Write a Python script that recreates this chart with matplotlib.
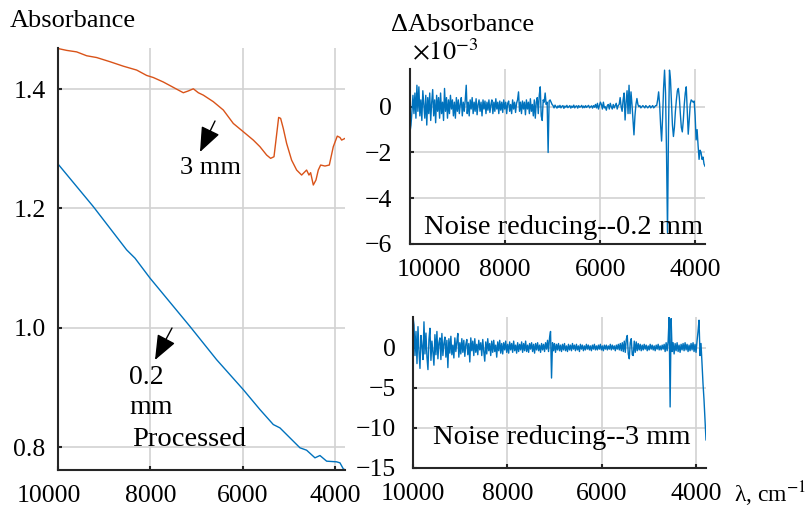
import numpy as np
import matplotlib
matplotlib.use('Agg')
import matplotlib.pyplot as plt
from matplotlib.patches import FancyArrowPatch
from matplotlib.transforms import ScaledTranslation

# ---------------- data ----------------
thick_x = [9993, 9812, 9596, 9379, 9162, 8873, 8584, 8295, 8079, 7934, 7718, 7501, 7284,
           7176, 7067, 6959, 6851, 6634, 6417, 6201, 5984, 5767, 5623, 5478, 5392, 5319,
           5276, 5218, 5175, 5117, 5045, 4937, 4828, 4720, 4648, 4612, 4561, 4525, 4467,
           4409, 4359, 4308, 4214, 4120, 4034, 3947, 3889, 3853, 3781]
thick_y = [1.468, 1.465, 1.4625, 1.456, 1.453, 1.446, 1.4385, 1.432, 1.423, 1.4195, 1.412,
           1.403, 1.394, 1.397, 1.4006, 1.394, 1.390, 1.379, 1.365, 1.3425, 1.3286, 1.3146,
           1.3035, 1.2895, 1.284, 1.2867, 1.3146, 1.3526, 1.351, 1.334, 1.309, 1.281, 1.2644,
           1.256, 1.2616, 1.2644, 1.256, 1.26, 1.2393, 1.2477, 1.2644, 1.2728, 1.2711, 1.2728,
           1.3035, 1.3213, 1.319, 1.3146, 1.3174]

thin_x = [10000, 9234, 8512, 8331, 8006, 7140, 6562, 5984, 5623, 5334, 5190, 4973, 4756,
          4612, 4431, 4323, 4178, 3962, 3889, 3817, 3781]
thin_y = [1.2745, 1.203, 1.1305, 1.1166, 1.0832, 1.0022, 0.9464, 0.8962, 0.8628, 0.8377,
          0.8321, 0.8154, 0.7987, 0.7947, 0.7819, 0.7858, 0.7763, 0.7752, 0.7735, 0.7634, 0.762]

# wavenumber range of the difference spectra (cm^-1), evenly sampled
d02_start, d02_stop = 10000, 3800
d3_start, d3_stop = 10000, 3790

# difference spectrum, 0.2 mm (x 1e-3)
diff_02 = [
    -1.1, -0.8, -0.2, 0.5, -0.3, 0.6, -0.5, 0.94, -0.2, 0.87,
    -0.4, 0.3, -0.6, 0.7, 0.1, -0.5, 0.5, -0.8, 0.4, -0.3,
    0.6, -0.6, 0.2, 0.75, -0.4, 0.3, -0.7, 0.5, -0.2, 0.4,
    -0.5, 0.6, -0.3, 0.2, -0.6, 0.8, -0.2, 0.4, -0.5, 0.3,
    -0.3, 0.5, -0.1, 0.3, -0.4, 0.2, -0.5, 0.4, -0.2, 0.3,
    -0.3, 0.1, 0.4, -0.4, 0.2, -0.2, 0.3, 0.94, -0.3, 0.2,
    -0.4, 0.3, -0.1, 0.4, -0.3, 0.2, -0.2, 0.35, -0.35, 0.1,
    0.3, -0.2, 0.2, -0.4, 0.3, -0.1, 0.25, -0.3, 0.2, -0.15,
    0.3, -0.25, 0.1, 0.3, -0.3, 0.2, -0.2, 0.35, -0.1, 0.2,
    -0.3, 0.25, -0.15, 0.2, -0.25, 0.3, -0.1, 0.2, -0.3, 0.15,
    0.25, -0.2, 0.1, -0.3, 0.3, -0.1, 0.2, -0.25, 0.15, 0.3,
    0.65, -0.2, 0.2, -0.3, 0.25, -0.1, 0.2, -0.35, 0.3, -0.1,
    0.2, -0.3, 0.35, -0.2, 0.1, -0.4, 0.3, -0.5, 0.2, 0.4,
    -0.3, 0.5, 0.87, -0.4, -0.6, 0.3, 0.2, 0.6, 0.1, 0.2,
    -2.0, 0.25, 0.3, 0.2, 0.1,
    0.05, -0.05, 0.07, 0.0, -0.06, 0.04, -0.03, 0.06, -0.05, 0.02,
    0.05, -0.07, 0.03, -0.02, 0.06, -0.04, 0.0, 0.05, -0.06, 0.03,
    -0.03, 0.07, -0.05, 0.02, 0.04, -0.06, 0.05, -0.02, 0.0, 0.06,
    -0.05, 0.03, -0.04, 0.05, -0.03, 0.02, 0.06, -0.05, 0.0, 0.04,
    -0.06, 0.05, -0.02,
    0.1, -0.05, 0.15, -0.1, 0.05, 0.2, 0.1, -0.1, 0.2, -0.05,
    0.0, -0.15, 0.05, 0.1, -0.1, 0.15, 0.0, -0.1, 0.1, -0.05,
    0.05, 0.15, -0.1, 0.05,
    0.1, 0.4, 0.0, -0.2, 0.3, 0.6, -0.58, 0.2, 0.7, -0.3,
    0.94, -0.3, 0.65, 0.1, -0.6, -1.23, -0.4, 0.1, 0.36, 0.1, 0.0,
    0.05, -0.05, 0.0, 0.05, 0.0, -0.05, 0.05, 0.0, -0.05, 0.0,
    0.05, -0.05, 0.0, 0.05, -0.05, 0.0, 0.05,
    0.05, 0.3, 0.65, 0.1, -0.8, -1.5, -0.5, 0.8, 1.6, 0.6,
    -2.0, -5.5, -1.0, 1.6, 1.2, 0.2, -0.8, -1.3, -0.9, -0.2,
    0.3, 0.7, 0.8, 0.4, -0.3, -0.9, -1.1, -0.6, 0.1, 0.6,
    0.87, -0.2, -1.2, -0.6, 0.1, 0.3, 0.25, 0.2, 0.25, -0.4,
    -1.45, -1.0, -1.7, -2.3, -1.9, -2.0, -2.3, -2.2, -2.5, -2.6]

# difference spectrum, 3 mm (x 1e-3)
diff_3 = [
    3.8, 2.8, -1.0, 2.0, -2.0, 2.6, -0.5, -2.6, 1.5, 0.2,
    -1.5, 3.2, -0.8, 1.8, -1.2, -2.75, 1.0, 2.4, -1.6, 0.8,
    -0.6, -2.2, 1.6, -0.9, 2.0, -1.4, 0.6, 1.2, -1.5, 1.75,
    -1.0, 0.5, 1.3, -1.2, 0.9, -2.5, 1.1, -0.7, 1.4, -0.9,
    0.3, -1.3, 1.2, -0.5, 0.7, 1.75, -1.2, 0.6, -0.8, 1.1,
    -0.6, 0.9, -1.1, 0.4, 1.0, -0.9, 0.5, -1.8, 1.2, -0.4,
    0.8, -1.0, 1.1, -0.6, 0.4, -0.9, 0.9, -0.3, 0.6, -1.0,
    1.0, -0.5, -1.7, 0.7, -0.8, 1.1, -0.4, 0.5, -1.0, 0.8,
    -0.6, 0.9, -0.5, 0.3, -1.2, 0.7, -0.4, 0.9, -0.7, 0.5,
    -0.8, 0.6, -0.3, 0.8, -0.6, 0.4, -0.7, 0.7, -0.3, 0.5,
    -0.6, 0.8, -0.4, 0.3, -0.7, 0.6, -0.5, 0.4, -0.3, 0.7,
    -0.6, 0.5, -0.4, 0.8, -0.5, 0.3, -0.6, 0.5, -0.2, 0.6,
    -0.5, 0.4, -0.7, 0.5, -0.3, 0.6, -0.4, 0.3, -0.6, 0.5,
    -0.3, 0.4, -0.5, 0.6, -0.2, 0.9, -0.5, 1.2, 2.0, -3.8,
    0.6, -0.4, 0.5, -0.6, 0.4, -0.3, 0.5, -0.4, 0.3, -0.5,
    0.4, -0.3, 0.5, -0.4, 0.2, -0.5, 0.4, -0.3, 0.3, -0.4,
    0.5, -0.2, 0.3, -0.4, 0.4, -0.3, 0.2, -0.5, 0.4, -0.2,
    0.3, -0.4, 0.2, -0.3, 0.4, -0.2, 0.3, -0.3, 0.2, -0.4,
    0.3, -0.2, 0.4, -0.3, 0.2, -0.3, 0.3, -0.2, 0.4, -0.3,
    0.2, -0.4, 0.3, -0.2, 0.3, -0.3, 0.2, -0.2, 0.4, -0.3,
    0.3, -0.2, 0.2, -0.4, 0.3, -0.2, 0.4, -0.3, 0.5, -0.4,
    0.6, -0.5, 0.8, -0.6, 1.0, 1.5, -0.8, -1.4, 0.6, 1.1,
    -0.9, -1.0, 0.8, -0.6, 0.7, -0.4, 0.5, -0.3, 0.4, -0.4,
    0.3, -0.3, 0.4, -0.2, 0.3, -0.4, 0.2, -0.3, 0.4, -0.2,
    0.3, -0.3, 0.2, -0.4, 0.3, -0.2, 0.4, -0.3, 0.2, -0.3,
    0.3, -0.2, 0.4, -0.5, 0.6, -0.4, 0.8, 3.8, -7.4, 3.6,
    -0.5, 0.6, -0.8, 0.5, -0.4, 0.6, -0.5, 0.3, -0.6, 0.4,
    -0.3, 0.5, -0.4, 0.6, -0.3, 0.4, -0.5, 0.3, -0.4, 0.5,
    -0.3, 0.6, -0.5, 0.4, -0.6, 0.8, 2.0, 3.4, -1.0, 0.5,
    -2.0, -4.5, -6.5, -9.0, -11.5]

x_ticks = [10000, 8000, 6000, 4000]
x_ticklabels = ['10000', '8000', '6000', '4000']
left_yticks = [0.8, 1.0, 1.2, 1.4]
left_yticklabels = ['0.8', '1.0', '1.2', '1.4']
tr_yticks = [-6, -4, -2, 0]
br_yticks = [-15, -10, -5, 0]

# ---------------- style ----------------
plt.rcParams['font.family'] = ['Liberation Serif', 'DejaVu Serif']
plt.rcParams['mathtext.fontset'] = 'stix'

W, H = 811, 508
fig = plt.figure(figsize=(W / 100, H / 100), dpi=100)

ORANGE = '#D95319'
BLUE = '#0072BD'
AXC = '#262626'


def ax_px(l, t, r, b):
    return fig.add_axes([l / W, 1 - b / H, (r - l) / W, (b - t) / H])


def style(ax, ypad):
    for s in ['top', 'right']:
        ax.spines[s].set_visible(False)
    for s in ['left', 'bottom']:
        ax.spines[s].set_linewidth(1.5)
        ax.spines[s].set_color(AXC)
    ax.grid(True, color='#d2d2d2', lw=1.2)
    ax.set_axisbelow(True)
    ax.tick_params(direction='in', length=3, width=1.5, colors=AXC,
                   labelcolor='black', labelsize=18.5)
    ax.tick_params(axis='x', pad=11)
    ax.tick_params(axis='y', pad=ypad)


def shift_label(ax, idx, dx_px):
    lab = ax.xaxis.get_major_ticks()[idx].label1
    lab.set_transform(lab.get_transform() +
                      ScaledTranslation(dx_px / 100, 0, fig.dpi_scale_trans))


def ftext(x, y, s, **kw):
    fig.text(x / W, 1 - y / H, s, **kw)


# left panel
axL = ax_px(58, 48, 345, 470)
axL.plot(thick_x, thick_y, color=ORANGE, lw=1.0)
axL.plot(thin_x, thin_y, color=BLUE, lw=1.0)
axL.set_xlim(10000, 3780)
axL.set_ylim(0.7615, 1.469)
axL.set_xticks(x_ticks, x_ticklabels)
axL.set_yticks(left_yticks, left_yticklabels)
style(axL, 9)
shift_label(axL, 0, -9)

# top right panel
wn02 = np.linspace(d02_start, d02_stop, len(diff_02))
axT = ax_px(410, 69, 705, 244)
axT.plot(wn02, diff_02, color=BLUE, lw=1.0)
axT.set_xlim(10000, 3800)
axT.set_ylim(-6, 1.65)
axT.set_xticks(x_ticks, x_ticklabels)
axT.set_yticks(tr_yticks)
style(axT, 13)
shift_label(axT, 0, 19)

# bottom right panel
wn3 = np.linspace(d3_start, d3_stop, len(diff_3))
axB = ax_px(413, 317, 706, 468)
axB.plot(wn3, diff_3, color=BLUE, lw=1.0)
axB.set_xlim(10000, 3790)
axB.set_ylim(-15, 3.8)
axB.set_xticks(x_ticks, x_ticklabels)
axB.set_yticks(br_yticks)
style(axB, 12)

# texts
ftext(10, 21, 'Absorbance', fontsize=19, ha='left', va='center')
ftext(391, 25, 'ΔAbsorbance', fontsize=19, ha='left', va='center')
ftext(412, 52, r'$\times10^{-3}$', fontsize=19, ha='left', va='center')
ftext(734, 494, r'λ, cm$^{-1}$', fontsize=17, ha='left', va='center')
ftext(180, 168, '3 mm', fontsize=19, ha='left', va='center')
ftext(129, 378, '0.2', fontsize=20, ha='left', va='center')
ftext(129, 408, 'mm', fontsize=20, ha='left', va='center')
ftext(132, 440, 'Processed', fontsize=20.5, ha='left', va='center')
ftext(424, 227, 'Noise reducing--0.2 mm', fontsize=20.5, ha='left', va='center')
ftext(433, 437, 'Noise reducing--3 mm', fontsize=20.5, ha='left', va='center')

arrow_kw = dict(arrowstyle='-|>,head_length=0.55,head_width=0.22', color='black',
                lw=1.0, mutation_scale=28, shrinkA=0, shrinkB=0)
fig.add_artist(FancyArrowPatch((215 / W, 1 - 121 / H), (200 / W, 1 - 152 / H),
                               transform=fig.transFigure, **arrow_kw))
fig.add_artist(FancyArrowPatch((172 / W, 1 - 328 / H), (155 / W, 1 - 360 / H),
                               transform=fig.transFigure, **arrow_kw))

fig.savefig('out.png', dpi=100)
